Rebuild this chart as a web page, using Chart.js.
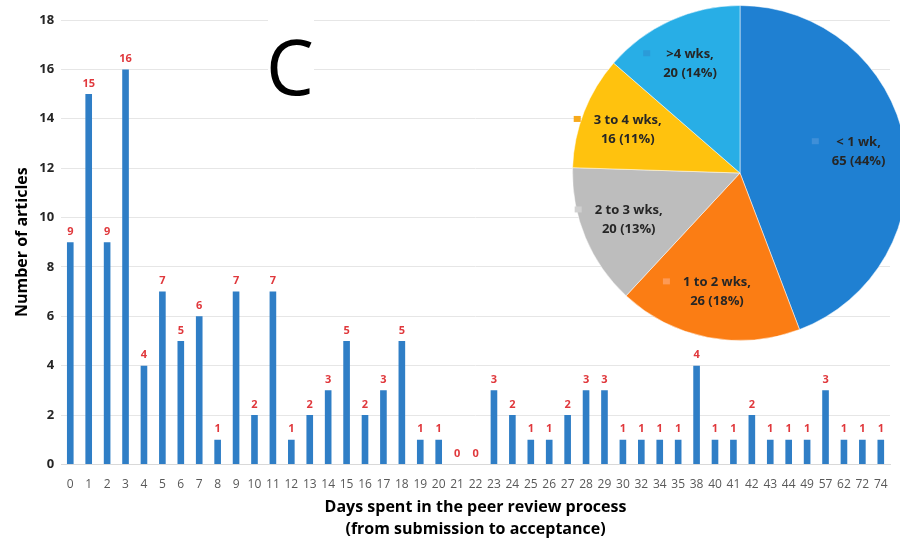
<!DOCTYPE html>
<html lang="en">
<head>
    <meta charset="UTF-8">
    <title>Peer review days</title>
    <script src="https://cdn.jsdelivr.net/npm/chart.js"></script>
    <style>
        html, body { margin: 0; padding: 0; background: #fff; overflow: hidden; }
        #wrap { position: relative; width: 900px; height: 545px; overflow: hidden; }
        #barBox { position: absolute; left: 0; top: 0; width: 900px; height: 545px; }
        #pieBox { position: absolute; left: 572px; top: 5px; width: 336px; height: 336px; }
    </style>
</head>
<body>
<div id="wrap">
    <div id="barBox"><canvas id="barChart"></canvas></div>
    <div id="pieBox"><canvas id="pieChart"></canvas></div>
</div>

<script>
    // bar data: days in review -> number of articles
    const days = ['0','1','2','3','4','5','6','7','8','9','10','11','12','13','14','15','16','17','18','19','20',
        '21','22','23','24','25','26','27','28','29','30','32','34','35','38','40','41','42','43','44','49','57','62','72','74'];
    const articles = [9,15,9,16,4,7,5,6,1,7,2,7,1,2,3,5,2,3,5,1,1,
        0,0,3,2,1,1,2,3,3,1,1,1,1,4,1,1,2,1,1,1,3,1,1,1];

    // pie inset
    const pieLabels = ['< 1 wk', '1 to 2 wks', '2 to 3 wks', '3 to 4 wks', '>4 wks'];
    const pieCounts = [65, 26, 20, 16, 20];
    const piePercents = [44, 18, 13, 11, 14];
    const pieColors = ['#1f80d2', '#fb7d14', '#bdbdbd', '#ffc20e', '#28aee6'];
    const markerColors = ['#3f8fd8', '#fd9a55', '#d0d0d0', '#f7a91a', '#2b9bd8'];

    const FONT = "'Open Sans', 'Liberation Sans', sans-serif";

    // red value labels above each bar + the big "C"
    const barExtras = {
        id: 'barExtras',
        afterDatasetsDraw(chart) {
            const c = chart.ctx;
            const meta = chart.getDatasetMeta(0);
            c.save();
            c.fillStyle = '#e0383c';
            c.font = 'bold 11px ' + FONT;
            c.textAlign = 'center';
            c.textBaseline = 'bottom';
            meta.data.forEach((bar, i) => {
                c.fillText(String(articles[i]), bar.x, bar.y - 5);
            });
            c.restore();
        },
        afterDraw(chart) {
            const c = chart.ctx;
            c.save();
            c.fillStyle = '#fff';
            c.fillRect(268, 10, 46, 92);
            c.fillStyle = '#000';
            c.font = '76px ' + FONT;
            c.textAlign = 'center';
            c.textBaseline = 'alphabetic';
            c.fillText('C', 290, 95);
            c.restore();
        }
    };

    new Chart(document.getElementById('barChart'), {
        type: 'bar',
        data: {
            labels: days,
            datasets: [{
                data: articles,
                backgroundColor: '#2f7ec6',
                barPercentage: 0.36,
                categoryPercentage: 1.0
            }]
        },
        options: {
            responsive: true,
            maintainAspectRatio: false,
            animation: false,
            layout: { padding: { top: 20, right: 10, left: 13, bottom: 5 } },
            plugins: {
                legend: { display: false },
                tooltip: { enabled: false }
            },
            scales: {
                x: {
                    grid: { display: false },
                    border: { display: true, color: '#d9d9d9' },
                    ticks: {
                        color: '#595959',
                        autoSkip: false,
                        maxRotation: 0,
                        padding: 5,
                        font: { family: FONT, size: 12 }
                    },
                    title: {
                        display: true,
                        text: ['Days spent in the peer review process', '(from submission to acceptance)'],
                        color: '#000',
                        padding: { top: 0, bottom: 0 },
                        font: { family: FONT, size: 16, weight: 'bold', lineHeight: 1.35 }
                    }
                },
                y: {
                    min: 0,
                    max: 18,
                    ticks: {
                        stepSize: 2,
                        color: '#262626',
                        padding: 7,
                        font: { family: FONT, size: 13, weight: 'bold' }
                    },
                    grid: { color: '#e6e6e6', drawTicks: false },
                    border: { display: false },
                    title: {
                        display: true,
                        text: 'Number of articles',
                        color: '#000',
                        padding: { top: 0, bottom: 0 },
                        font: { family: FONT, size: 16, weight: 'bold' }
                    }
                }
            }
        },
        plugins: [barExtras]
    });

    // two-line labels inside the pie slices, with small key squares
    const pieText = {
        id: 'pieText',
        afterDatasetsDraw(chart) {
            const c = chart.ctx;
            const meta = chart.getDatasetMeta(0);
            c.save();
            c.font = 'bold 13px ' + FONT;
            c.textAlign = 'center';
            c.textBaseline = 'middle';
            meta.data.forEach((arc, i) => {
                const mid = (arc.startAngle + arc.endAngle) / 2;
                const r = arc.outerRadius * 0.72;
                const x = arc.x + Math.cos(mid) * r;
                const y = arc.y + Math.sin(mid) * r;
                const line1 = pieLabels[i] + ',';
                const line2 = pieCounts[i] + ' (' + piePercents[i] + '%)';
                const w = Math.max(c.measureText(line1).width, c.measureText(line2).width);
                c.fillStyle = markerColors[i];
                c.fillRect(x - w / 2 - 20, y - 13, 7, 6);
                c.fillStyle = '#262626';
                c.fillText(line1, x, y - 9);
                c.fillText(line2, x, y + 10);
            });
            c.restore();
        }
    };

    new Chart(document.getElementById('pieChart'), {
        type: 'pie',
        data: {
            labels: pieLabels,
            datasets: [{
                data: pieCounts,
                backgroundColor: pieColors,
                borderColor: 'rgba(255,255,255,0.5)',
                borderWidth: 1
            }]
        },
        options: {
            responsive: true,
            maintainAspectRatio: false,
            animation: false,
            layout: { padding: 0 },
            plugins: {
                legend: { display: false },
                tooltip: { enabled: false }
            }
        },
        plugins: [pieText]
    });
</script>
</body>
</html>
